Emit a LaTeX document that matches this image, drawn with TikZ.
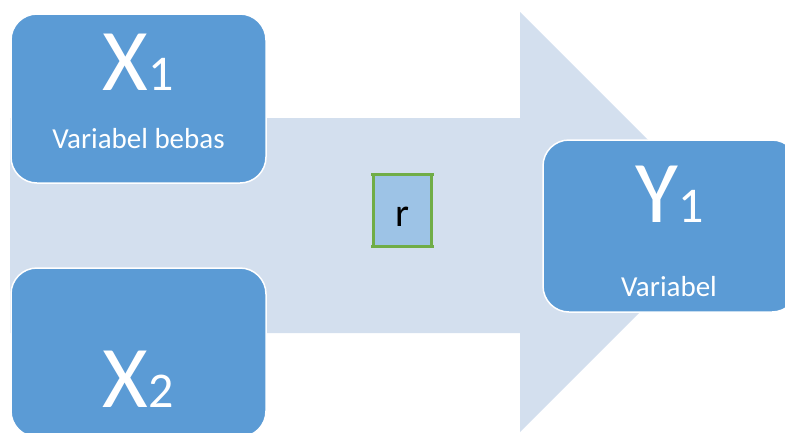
\documentclass[tikz,border=0pt]{standalone}
\usepackage{fontspec}
\setmainfont{Carlito}
\definecolor{boxblue}{HTML}{5B9BD5}
\definecolor{arrowfill}{HTML}{D3DFEE}
\definecolor{rfill}{HTML}{9DC3E6}
\definecolor{rline}{HTML}{70AD47}
\tikzset{
  varbox/.style={draw=white, line width=1.5pt, fill=boxblue, rounded corners=26pt,
    minimum width=255pt, inner sep=0pt},
  bigsym/.style={text=white, anchor=base, inner sep=0pt,
    font=\fontsize{88}{88}\selectfont},
  caption/.style={text=white, anchor=base, inner sep=0pt,
    font=\fontsize{29}{29}\selectfont},
  corrbox/.style={fill=rfill, inner sep=0pt, minimum width=57pt, minimum height=71pt},
  corrline/.style={draw=rline, line width=2.8pt}
}
\newcommand{\subdig}[1]{{\fontsize{50}{50}\selectfont #1}}
\begin{document}
\begin{tikzpicture}[x=1pt, y=-1pt]
\useasboundingbox (0,0) rectangle (785,432);

% wide block arrow behind the boxes
\fill[arrowfill] (10,118) -- (520,118) -- (520,12) -- (730,222)
  -- (520,432) -- (520,333) -- (10,333) -- cycle;

% variable boxes
\node[varbox, minimum height=169pt] (x1) at (138.5,98.5) {};
\node[varbox, minimum height=169pt] (x2) at (138.5,352.5) {};
\node[varbox, minimum height=172pt] (y1) at (670.5,226) {};

\node[bigsym] (x1t) at (138.5,90) {X\subdig{1}};
\node[caption] (x1c) at (138.5,148) {Variabel bebas};
\node[bigsym] (x2t) at (138.5,407) {X\subdig{2}};
\node[bigsym] (y1t) at (669.5,222) {Y\subdig{1}};
\node[caption] (y1c) at (669,296) {Variabel};

% correlation marker
\node[corrbox] (r) at (402.5,210.5) {};
\draw[corrline] ([xshift=-2.5pt]r.north west) -- ([xshift=2.5pt]r.north east);
\draw[corrline] ([xshift=-2.5pt]r.south west) -- ([xshift=2.5pt]r.south east);
\draw[corrline] (r.north west) -- (r.south west);
\draw[corrline] (r.north east) -- (r.south east);
\node[anchor=base, inner sep=0pt, font=\fontsize{40}{40}\selectfont] (rt) at (402.5,226) {r};
\end{tikzpicture}
\end{document}
